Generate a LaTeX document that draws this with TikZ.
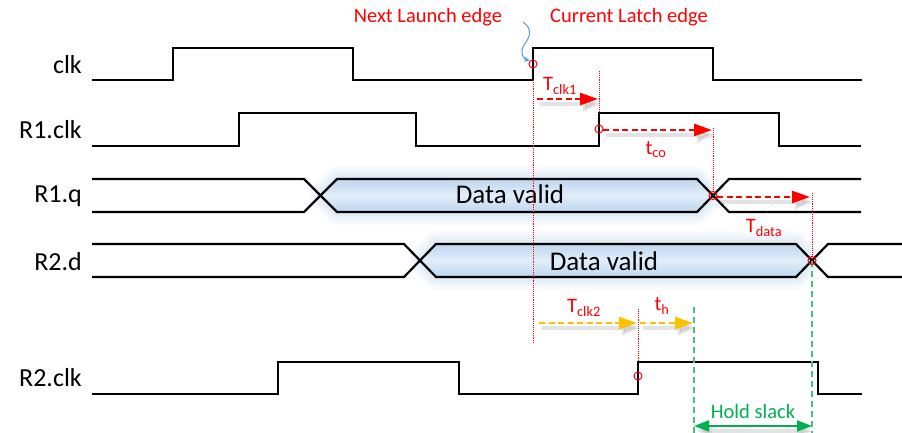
\documentclass[tikz,border=0pt]{standalone}
\usepackage{fontspec}
\setmainfont{Carlito}
\usetikzlibrary{arrows.meta}
\definecolor{sred}{RGB}{255,0,0}
\definecolor{syel}{RGB}{255,192,0}
\definecolor{sgreen}{RGB}{0,176,80}
\definecolor{sgreenl}{RGB}{70,195,120}
\definecolor{sblue}{RGB}{91,155,213}
\definecolor{glowc}{RGB}{160,195,230}
\definecolor{fillA}{RGB}{190,214,238}
\definecolor{fillB}{RGB}{226,238,250}
\begin{document}
\begin{tikzpicture}[x=1pt,y=-1pt,
  sig/.style={line width=2.2pt, black, line join=miter},
  siglabel/.style={anchor=east, font=\fontsize{26}{30}\selectfont, inner sep=0pt},
  datalabel/.style={font=\fontsize{27}{30}\selectfont, inner sep=0pt},
  redlabel/.style={text=sred, font=\fontsize{20.5}{24}\selectfont, inner sep=0pt},
  greenlabel/.style={text=sgreen, font=\fontsize{20.5}{24}\selectfont, inner sep=0pt},
  guide/.style={sred, line width=0.9pt, densely dotted},
  gguide/.style={sgreenl, line width=1.5pt, dash pattern=on 6pt off 4pt},
  ptmark/.style={draw=sred, line width=1pt, circle, minimum size=8pt, inner sep=0pt},
  tarrow/.style={line width=2.6pt, dash pattern=on 6pt off 3.5pt, -{Triangle[length=18pt,width=12pt]}},
  shad/.style={gray, opacity=0.22, line width=4pt, -{Triangle[length=18pt,width=14pt]}},
]
\useasboundingbox (0,0) rectangle (902,433);

% ---------- glows behind valid data ----------
\foreach \w/\o in {26/0.06,20/0.08,14/0.1,8/0.12} {
  \draw[glowc, line width=\w pt, opacity=\o, line join=round]
    (321,195.5) -- (337,179) -- (697,179) -- (713,195.5) -- (697,212) -- (337,212) -- cycle;
  \draw[glowc, line width=\w pt, opacity=\o, line join=round]
    (420,260.5) -- (436,244) -- (796,244) -- (812,260.5) -- (796,277) -- (436,277) -- cycle;
}
\shade[top color=fillA, bottom color=fillA, middle color=fillB]
  (321,195.5) -- (337,179) -- (697,179) -- (713,195.5) -- (697,212) -- (337,212) -- cycle;
\shade[top color=fillA, bottom color=fillA, middle color=fillB]
  (420,260.5) -- (436,244) -- (796,244) -- (812,260.5) -- (796,277) -- (436,277) -- cycle;

% ---------- signal labels ----------
\node[siglabel] (lclk)  at (82,65)  {clk};
\node[siglabel] (lr1c)  at (82,130) {R1.clk};
\node[siglabel] (lr1q)  at (82,196) {R1.q};
\node[siglabel] (lr2d)  at (82,262) {R2.d};
\node[siglabel] (lr2c)  at (82,378) {R2.clk};

% ---------- waveforms ----------
\draw[sig] (92,80) -- (173,80) -- (173,48) -- (353,48) -- (353,80) -- (533,80) -- (533,48) -- (713,48) -- (713,80) -- (862,80);
\draw[sig] (92,146) -- (239,146) -- (239,113) -- (416,113) -- (416,146) -- (599,146) -- (599,113) -- (779,113) -- (779,146) -- (861,146);
\draw[sig] (92,179) -- (304,179) -- (337,212) -- (697,212) -- (729,179) -- (861,179);
\draw[sig] (92,212) -- (304,212) -- (337,179) -- (697,179) -- (729,212) -- (861,212);
\draw[sig] (92,244) -- (404,244) -- (436,277) -- (796,277) -- (828,244) -- (902,244);
\draw[sig] (92,277) -- (404,277) -- (436,244) -- (796,244) -- (828,277) -- (902,277);
\draw[sig] (92,394) -- (278,394) -- (278,362) -- (459,362) -- (459,394) -- (638,394) -- (638,362) -- (818,362) -- (818,394) -- (862,394);

\node[datalabel] (dv1) at (510,194) {Data valid};
\node[datalabel] (dv2) at (604,261) {Data valid};

% ---------- named points ----------
\coordinate (e0) at (533,64);
\coordinate (e0b) at (533,344);
\coordinate (e1) at (599,129);
\coordinate (e1t) at (599,71);
\coordinate (x1) at (713,195.5);
\coordinate (x1t) at (713,128);
\coordinate (x2) at (812,260.5);
\coordinate (x2t) at (812,193);
\coordinate (x2b) at (812,433);
\coordinate (e2) at (638,376);
\coordinate (e2t) at (638,309);
\coordinate (h1t) at (694,307);
\coordinate (h1b) at (694,433);

% ---------- red dotted guides ----------
\draw[guide] (533,80) -- (e0b);
\draw[guide] (e1t) -- (599,113);
\draw[guide] (x1t) -- (x1);
\draw[guide] (x2t) -- (x2);
\draw[guide] (e2t) -- (638,362);

% ---------- green dashed guides ----------
\draw[gguide] (h1t) -- (h1b);
\draw[gguide] (x2) -- (x2b);

% ---------- markers ----------
\node[ptmark] (m0) at (e0) {};
\node[ptmark] (m1) at (e1) {};
\node[ptmark] (m2) at (x1) {};
\node[ptmark] (m3) at (x2) {};
\node[ptmark] (m4) at (e2) {};

% ---------- arrows with shadows ----------
\coordinate (a1s) at (537,99);   \coordinate (a1e) at (598,99);
\coordinate (a2s) at (603,130);  \coordinate (a2e) at (712,130);
\coordinate (a3s) at (717,197);  \coordinate (a3e) at (810,197);
\coordinate (a4s) at (539,323);  \coordinate (a4e) at (637,323);
\coordinate (a5s) at (640,323);  \coordinate (a5e) at (693,323);
\foreach \s/\e in {a1s/a1e,a2s/a2e,a3s/a3e,a4s/a4e,a5s/a5e} {
  \draw[shad] ([shift={(3,5)}]\s) -- ([shift={(3,5)}]\e);
}
\draw[shad, {Triangle[length=15pt,width=13pt]}-{Triangle[length=15pt,width=13pt]}] (697,431) -- (812,431);

\draw[tarrow, sred] (a1s) -- (a1e);
\draw[tarrow, sred] (a2s) -- (a2e);
\draw[tarrow, sred] (a3s) -- (a3e);
\draw[tarrow, syel] (a4s) -- (a4e);
\draw[tarrow, syel] (a5s) -- (a5e);

\coordinate (hs1) at (694,426); \coordinate (hs2) at (812,426);
\draw[sgreen, line width=2pt, {Triangle[length=15pt,width=11pt]}-{Triangle[length=15pt,width=11pt]}] (hs1) -- (hs2);

% ---------- labels ----------
\node[redlabel] (nle) at (428,17) {Next Launch edge};
\node[redlabel] (cle) at (629,17) {Current Latch edge};
\node[redlabel] (tc1) at (560,86) {T\textsubscript{clk1}};
\node[redlabel] (tco) at (656,150) {t\textsubscript{co}};
\node[redlabel] (tda) at (764,228) {T\textsubscript{data}};
\node[redlabel] (tc2) at (584,308) {T\textsubscript{clk2}};
\node[redlabel] (th)  at (662,306) {t\textsubscript{h}};
\node[greenlabel] (hsl) at (753,411) {Hold slack};

% ---------- blue pointer ----------
\coordinate (bp) at (523,22);
\draw[sblue, line width=1pt, -{Stealth[length=6pt,width=5pt]}]
  (bp) .. controls (534,30) and (529,38) .. (524,45) .. controls (519,53) and (524,59) .. (m0.north west);
\end{tikzpicture}
\end{document}
